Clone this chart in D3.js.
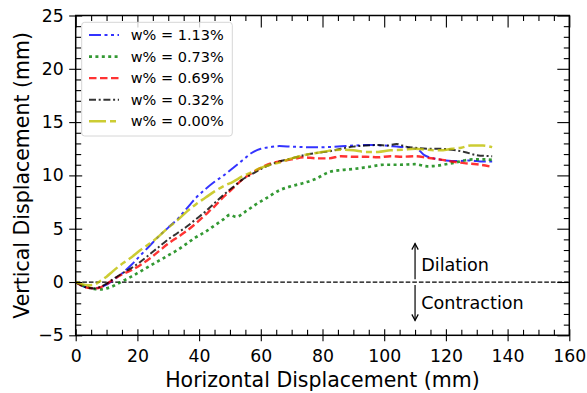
<!DOCTYPE html>
<html>
<head>
<meta charset="utf-8">
<script src="https://cdn.jsdelivr.net/npm/d3@7"></script>
<style>
  html, body { margin: 0; padding: 0; background: #fff; }
  svg { display: block; font-family: "DejaVu Sans", sans-serif; }
</style>
</head>
<body>
<svg id="chart" width="587" height="393"></svg>
<script>
// Horizontal / vertical displacement curves for five water contents (w%)
const labels = ["w% = 1.13%", "w% = 0.73%", "w% = 0.69%", "w% = 0.32%", "w% = 0.00%"];

const x113 = [0,2,4,6,8,10,12,15,18,21,24,27,30,33,36,39,42,45,48,51,54,57,60,63,66,70,75,80,85,90,95,100,104,108,111,113,116,120,124,128,132,135];
const y113 = [0,-0.35,-0.55,-0.6,-0.5,-0.25,0.15,0.8,1.6,2.5,3.4,4.3,5.1,5.9,6.9,7.9,8.7,9.4,10.0,10.7,11.4,12.1,12.5,12.65,12.75,12.7,12.65,12.65,12.7,12.8,12.85,12.8,12.7,12.6,12.4,11.9,11.6,11.4,11.35,11.4,11.3,11.3];

const x073 = [0,2,4,6,8,10,12,14,16,18,21,24,27,30,33,36,39,42,45,48,50,52,55,58,62,66,70,74,78,82,86,90,95,100,105,110,114,117,120,123,126,129,132,135];
const y073 = [0,-0.3,-0.5,-0.65,-0.7,-0.6,-0.4,-0.1,0.2,0.5,1.0,1.5,2.0,2.5,3.0,3.6,4.2,4.7,5.3,5.9,6.3,6.1,6.6,7.2,7.9,8.6,9.0,9.3,9.7,10.3,10.5,10.6,10.8,11.0,11.0,11.05,10.85,10.9,11.05,11.2,11.4,11.5,11.5,11.45];

const x069 = [0,2,4,6,8,10,12,15,18,21,24,27,30,33,36,39,42,45,48,51,54,57,60,63,66,70,74,78,82,86,90,94,98,102,106,110,114,118,122,126,130,135];
const y069 = [0,-0.35,-0.55,-0.6,-0.5,-0.2,0.2,0.7,1.1,1.6,2.2,2.9,3.6,4.2,4.8,5.5,6.3,7.1,8.0,8.8,9.6,10.2,10.7,11.1,11.3,11.5,11.7,11.6,11.6,11.8,11.75,11.75,11.7,11.8,11.75,11.8,11.65,11.5,11.3,11.15,11.05,10.8];

const x032 = [0,2,4,6,8,10,12,15,18,21,24,27,30,33,36,39,42,45,48,51,54,57,60,63,66,70,74,78,82,86,90,94,98,101,104,107,110,114,118,122,126,130,135];
const y032 = [0,-0.35,-0.55,-0.6,-0.45,-0.15,0.25,0.8,1.3,1.9,2.6,3.3,4.0,4.6,5.2,5.9,6.6,7.4,8.2,8.9,9.6,10.1,10.6,11.0,11.3,11.6,11.9,12.1,12.25,12.5,12.7,12.8,12.85,12.8,12.95,12.7,12.6,12.5,12.5,12.4,12.2,11.9,11.8];

const x000 = [0,2,4,6,8,10,12,15,18,21,24,27,30,33,36,39,42,45,48,51,54,57,60,63,66,70,74,78,82,86,90,94,98,102,106,110,114,118,122,125,128,132,135];
const y000 = [0,-0.2,-0.3,-0.25,0.1,0.5,1.0,1.7,2.3,3.0,3.6,4.3,5.1,5.8,6.6,7.3,7.9,8.5,9.0,9.4,9.9,10.3,10.7,11.0,11.2,11.6,11.9,12.1,12.3,12.4,12.35,12.2,12.2,12.35,12.4,12.5,12.4,12.35,12.5,12.6,12.8,12.8,12.65];

const xTicks = [0,20,40,60,80,100,120,140,160];
const yTicks = [-5,0,5,10,15,20,25];

const series = [
  { name: labels[0], xs: x113, ys: y113, color: "#0000ff", width: 2.0, dash: "12,3.5,3,3.5,3,3.5" },
  { name: labels[1], xs: x073, ys: y073, color: "#008000", width: 2.7, dash: "3,3.4" },
  { name: labels[2], xs: x069, ys: y069, color: "#ff0000", width: 2.4, dash: "7.5,3.5" },
  { name: labels[3], xs: x032, ys: y032, color: "#000000", width: 2.0, dash: "7,2.7,2,2.7" },
  { name: labels[4], xs: x000, ys: y000, color: "#bfbf00", width: 2.5, dash: "17,4,6,4" }
];

const svg = d3.select("#chart");
const pL = 75.7, pR = 569.3, pT = 15.5, pB = 335.3;

const x = d3.scaleLinear().domain([0, 160]).range([pL, pR]);
const y = d3.scaleLinear().domain([-5, 25]).range([pB, pT]);

const plot = svg.append("g");
svg.append("clipPath").attr("id", "clip")
  .append("rect").attr("x", pL).attr("y", pT).attr("width", pR - pL).attr("height", pB - pT);

// zero reference line
plot.append("line")
  .attr("x1", x(0)).attr("x2", x(160)).attr("y1", y(0)).attr("y2", y(0))
  .attr("stroke", "#000").attr("stroke-width", 1.25).attr("stroke-dasharray", "4.6,2");

// curves
const line = d3.line().x(d => x(d[0])).y(d => y(d[1])).curve(d3.curveMonotoneX);
const curves = plot.append("g").attr("clip-path", "url(#clip)");
series.forEach(s => {
  curves.append("path")
    .datum(s.xs.map((v, i) => [v, s.ys[i]]))
    .attr("d", line)
    .attr("fill", "none")
    .attr("stroke", s.color)
    .attr("stroke-opacity", 0.8)
    .attr("stroke-width", s.width)
    .attr("stroke-dasharray", s.dash);
});

// dilation / contraction arrows
function arrow(y0, y1) {
  const xa = x(110), ya = y(y0), yb = y(y1);
  const dir = yb < ya ? 1 : -1;
  plot.append("line").attr("x1", xa).attr("x2", xa).attr("y1", ya).attr("y2", yb)
    .attr("stroke", "#000").attr("stroke-width", 1.2);
  plot.append("path")
    .attr("d", `M${xa - 3.2},${yb + dir * 6}L${xa},${yb}L${xa + 3.2},${yb + dir * 6}`)
    .attr("fill", "none").attr("stroke", "#000").attr("stroke-width", 1.2);
}
arrow(0.25, 3.6);
arrow(-0.28, -3.6);
plot.append("text").attr("x", x(112)).attr("y", y(1.0))
  .attr("font-size", 17.6).text("Dilation");
plot.append("text").attr("x", x(112)).attr("y", y(-2.53))
  .attr("font-size", 17.6).text("Contraction");

// axes
const xMinor = d3.range(0, 161, 5).filter(v => v % 20 !== 0);
const yMinor = d3.range(-5, 26, 1).filter(v => v % 5 !== 0);

function style(g) {
  g.select(".domain").remove();
  g.selectAll("line").attr("stroke", "#000").attr("stroke-width", 1.1);
  g.selectAll("text").attr("font-size", 17.3).attr("fill", "#000").attr("font-family", "DejaVu Sans");
}

// bottom
svg.append("g").attr("transform", `translate(0,${pB})`)
  .call(d3.axisBottom(x).tickValues(xTicks).tickSize(6).tickPadding(8).tickFormat(d3.format("d"))).call(style);
svg.append("g").attr("transform", `translate(0,${pB})`)
  .call(d3.axisBottom(x).tickValues(xTicks).tickSize(-6).tickFormat("")).call(style);
svg.append("g").attr("transform", `translate(0,${pB})`)
  .call(d3.axisBottom(x).tickValues(xMinor).tickSize(-5.5).tickFormat("")).call(style);
// top
svg.append("g").attr("transform", `translate(0,${pT})`)
  .call(d3.axisTop(x).tickValues(xTicks).tickSize(-12).tickFormat("")).call(style);
svg.append("g").attr("transform", `translate(0,${pT})`)
  .call(d3.axisTop(x).tickValues(xMinor).tickSize(-5.5).tickFormat("")).call(style);
// left
svg.append("g").attr("transform", `translate(${pL},0)`)
  .call(d3.axisLeft(y).tickValues(yTicks).tickSize(6.5).tickPadding(5.5).tickFormat(d => d < 0 ? "\u2212" + Math.abs(d) : d)).call(style);
svg.append("g").attr("transform", `translate(${pL},0)`)
  .call(d3.axisLeft(y).tickValues(yTicks).tickSize(-6.5).tickFormat("")).call(style);
svg.append("g").attr("transform", `translate(${pL},0)`)
  .call(d3.axisLeft(y).tickValues(yMinor).tickSize(-5.5).tickFormat("")).call(style);
// right
svg.append("g").attr("transform", `translate(${pR},0)`)
  .call(d3.axisRight(y).tickValues(yTicks).tickSize(-12).tickFormat("")).call(style);
svg.append("g").attr("transform", `translate(${pR},0)`)
  .call(d3.axisRight(y).tickValues(yMinor).tickSize(-5.5).tickFormat("")).call(style);

// frame
svg.append("rect").attr("x", pL).attr("y", pT).attr("width", pR - pL).attr("height", pB - pT)
  .attr("fill", "none").attr("stroke", "#000").attr("stroke-width", 1.5);

// axis titles
svg.append("text").attr("x", (pL + pR) / 2).attr("y", 387).attr("text-anchor", "middle")
  .attr("font-size", 20.5).text("Horizontal Displacement (mm)");
svg.append("text").attr("transform", `translate(29,${(pT + pB) / 2}) rotate(-90)`)
  .attr("text-anchor", "middle").attr("font-size", 20.5).text("Vertical Displacement (mm)");

// legend
const lg = svg.append("g");
lg.append("rect").attr("x", 81.7).attr("y", 22.3).attr("width", 150.6).attr("height", 113.7).attr("rx", 3)
  .attr("fill", "#fff").attr("fill-opacity", 0.8).attr("stroke", "#d6d6d6").attr("stroke-width", 1);
series.forEach((s, i) => {
  const yy = 35 + i * 21.55;
  lg.append("line").attr("x1", 89).attr("x2", 119).attr("y1", yy).attr("y2", yy)
    .attr("stroke", s.color).attr("stroke-opacity", 0.8).attr("stroke-width", s.width)
    .attr("stroke-dasharray", s.dash);
  lg.append("text").attr("x", 130.7).attr("y", yy).attr("dy", "0.36em")
    .attr("font-size", 14.5).text(s.name);
});
</script>
</body>
</html>
